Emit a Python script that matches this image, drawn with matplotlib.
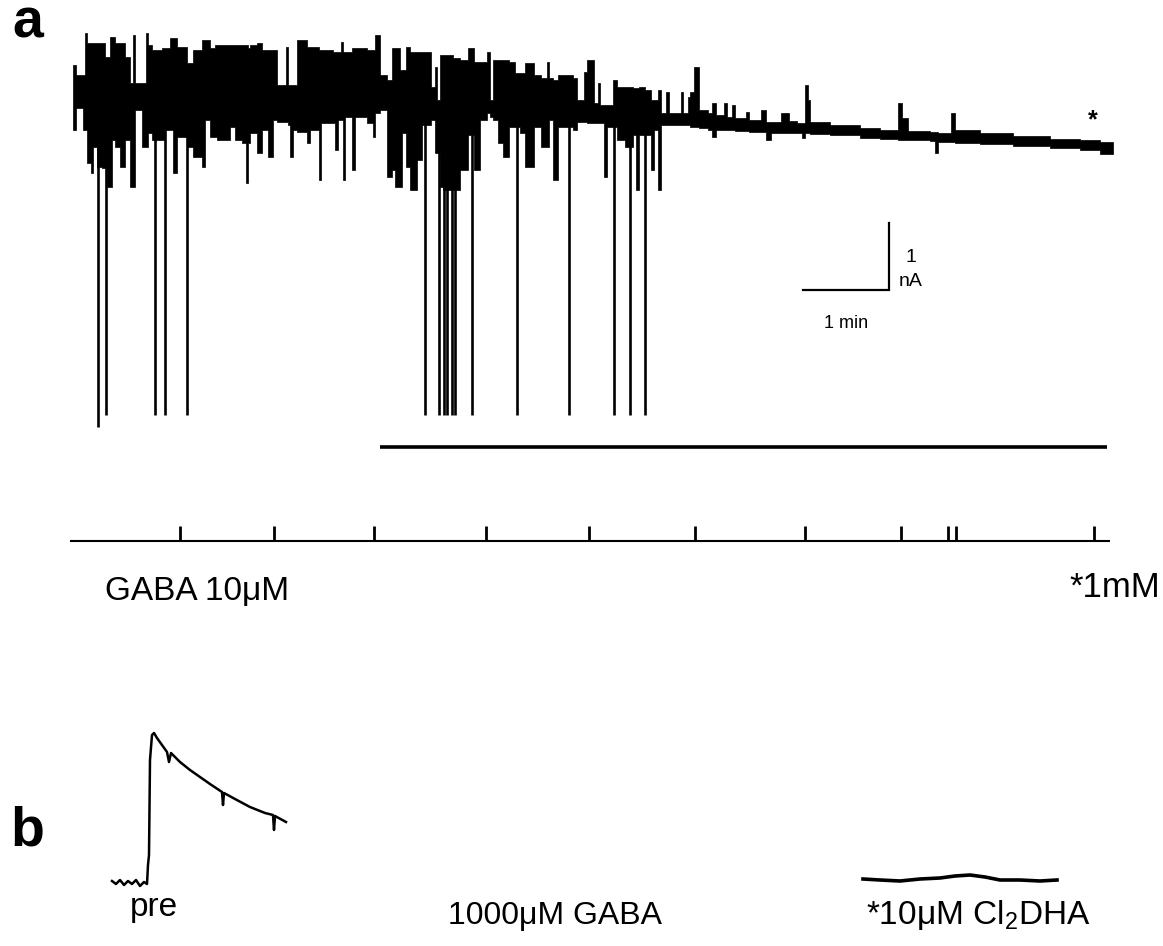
import matplotlib
matplotlib.use("Agg")
import matplotlib.pyplot as plt

plt.rcParams['font.family'] = ['Liberation Sans', 'DejaVu Sans']
plt.rcParams['mathtext.fontset'] = 'custom'
plt.rcParams['mathtext.rm'] = 'Liberation Sans'

# ---- panel a: whole-cell current during GABA 10 uM (time s, current pA) ----
# step envelope of the noisy trace: start time, upper edge, lower edge
band_t = [0.0, 2.1, 7.0, 8.4, 9.8, 12.6, 14.0, 16.8, 20.3, 22.4, 23.8, 25.9,
          27.3, 29.4, 32.9, 36.4, 39.9, 42.0, 43.4, 48.3, 51.1, 52.5, 55.3,
          62.3, 64.4, 67.9, 70.0, 72.8, 79.8, 84.0, 90.3, 92.4, 95.9, 99.4,
          100.8, 109.9, 113.4, 118.3, 121.1, 122.5, 123.9, 128.8, 132.3,
          136.5, 140.0, 142.8, 149.1, 150.5, 151.9, 154.0, 156.8, 163.8,
          165.9, 172.2, 173.6, 182.0, 183.4, 185.5, 187.6, 189.0, 190.4,
          195.3, 197.4, 205.8, 210.0, 211.4, 214.9, 219.8, 223.3, 225.4,
          228.9, 230.3, 233.1, 235.9, 240.8, 244.3, 250.6, 253.4, 254.8,
          256.9, 259.0, 266.0, 270.9, 276.5, 280.7, 284.9, 289.8, 291.9,
          294.0, 297.5, 301.0, 305.2, 309.4, 312.9, 316.4, 322.7, 327.6,
          331.8, 333.2, 336.0, 339.5, 350.0, 352.8, 357.7, 359.8, 364.7,
          367.5, 368.9, 371.7, 373.8, 378.0, 380.8, 386.4, 392.0, 394.1,
          396.2, 400.4, 404.6, 406.7, 409.5, 411.6, 415.1, 417.2, 425.6,
          427.0, 430.5, 431.9, 434.7, 438.2, 444.5, 447.3, 450.1, 455.7,
          457.8, 461.3, 463.4, 471.1, 473.2, 481.6, 485.1, 488.6, 495.6,
          501.2, 506.8, 510.3, 512.4, 514.5, 515.9, 529.9, 550.9, 564.9,
          577.5, 580.0, 584.5, 599.9, 603.4, 605.5, 614.6, 617.4, 634.9,
          658.0, 683.9, 704.9, 718.9, 728.0]
band_hi = [525, 375, 375, 1005, 855, 855, 855, 855, 855, 645, 645, 945,
           945, 855, 855, 645, 255, 975, 255, 255, 1005, 825, 750,
           780, 780, 930, 930, 795, 555, 750, 900, 900, 780, 825,
           825, 825, 825, 825, 825, 780, 825, 855, 750,
           750, 750, 225, 795, 225, 225, 225, 900, 795,
           795, 750, 750, 720, 720, 720, 870, 720, 720,
           780, 780, 750, 750, 975, 375, 300, 780, 780,
           450, 450, 795, 720, 720, 720, 195, 495, 0,
           675, 675, 630, 600, 780, 570, 570, 720, 0,
           600, 600, 600, 570, 405, 405, 555, 375, 330,
           570, 330, 300, 375, 330, 0, 420, 600, -45,
           255, -75, -75, -75, 300, 195, 195, 180, 180,
           195, 150, 0, 0, 150, -195, 120, -195, 120,
           -195, 45, 120, 495, -150, -195, -45, -225, -45,
           -255, -75, -270, -180, -300, -150, -330, -330, -195,
           -315, -345, -345, 225, 0, -330, -375, -420, -450,
           -45, -270, -465, -480, -480, -495, -195, -450, -495,
           -540, -585, -600, -630, -630]
band_lo = [-450, -120, -450, -450, -945, -1095, -705, -1005, -1020, -1020, -1305, -1305,
           -600, -705, -1005, -600, -1305, -1305, -150, -705, -705, -495, -600,
           -600, -450, -450, -1095, -555, -705, -855, -1005, -300, -555, -555,
           -600, -405, -600, -645, -1245, -645, -495, -795, -450,
           -855, -300, -330, -330, -375, -855, -450, -480, -645,
           -450, -1200, -345, -345, -750, -300, -300, -1200, -255,
           -1050, -255, -345, -555, -195, -150, -1155, -1050, -1305,
           -1305, -495, -1005, -1350, -900, -375, -300, -795, -795,
           -1305, -1350, -1350, -1050, -525, -1050, -300, -195, -255,
           -300, -645, -855, -405, -405, -495, -1005, -405, -705,
           -705, -300, -1200, -405, -450, -330, -330, -345, -345,
           -345, -345, -1155, -405, -405, -600, -705, -525, -1350,
           -525, -525, -1050, -450, -1350, -375, -375, -375, -375,
           -375, -375, -405, -405, -420, -450, -555, -450, -450,
           -450, -450, -465, -465, -480, -480, -600, -495, -495,
           -495, -495, -570, -495, -495, -510, -525, -570, -585,
           -600, -600, -600, -615, -795, -630, -630, -645, -660,
           -690, -720, -750, -810, -810]

# large inward events (time s, peak pA)
event_t = [17.2, 22.9, 57.2, 64.6, 79.5, 246.1, 256.1, 259.5, 261.7, 265.2,
           267.5, 279.4, 310.9, 347.2, 378.6, 390.0, 400.1]
event_peak = [-4905, -4725, -4725, -4725, -4725, -4725, -4725, -4725, -4725,
              -4725, -4725, -4725, -4725, -4725, -4725, -4725, -4725]

# drug application bar and event marker ticks (s)
drug_on, drug_off = 214.9, 723.8
marker_t = [74.9, 140.4, 210.7, 289.1, 360.9, 435.4, 512.2, 579.6, 612.7,
            617.8, 714.5]

# ---- panel b: responses to 1000 uM GABA (time s, current pA) ----
pre_t = [1.2, 1.6, 2.0, 2.4, 2.8, 3.2, 3.6, 4.0, 4.4, 4.7, 4.8, 4.9, 5.0,
         5.2, 5.4, 5.7, 6.2, 6.7, 6.9, 7.1, 8.0, 9.0, 10.0, 11.0, 12.2, 12.3,
         12.4, 13.5, 15.0, 16.5, 17.3, 17.4, 17.5, 18.6]
pre_i = [15, -30, 30, -45, 15, -30, 30, -60, 0, -30, 255, 405, 1830,
         2205, 2235, 2160, 2055, 1950, 1800, 1935, 1800, 1680, 1575, 1470,
         1350, 1155, 1335, 1245, 1125, 1035, 1005, 780, 990, 900]
cl2dha_t = [76.3, 78.0, 80.0, 82.0, 84.0, 85.5, 87.0, 88.5, 90.0, 92.0,
            94.0, 95.7]
cl2dha_i = [45, 30, 15, 45, 60, 90, 105, 75, 30, 30, 15, 30]

W, H = 1163, 946
fig = plt.figure(figsize=(W / 100, H / 100), dpi=100)

# panel a axes: 0.7 s and 15 pA per pixel, trace origin at (73, 100) px
ax = fig.add_axes([0, 0, 1, 1])
ax.set_xlim(-73 * 0.7, (W - 73) * 0.7)
ax.set_ylim((100 - H) * 15, 100 * 15)
ax.axis('off')

ax.fill_between(band_t, band_lo, band_hi, step='post', color='black',
                linewidth=0.5)
ax.vlines(event_t, -300, event_peak, color='black', linewidth=1.9)

ax.hlines(-5205, drug_on, drug_off, color='black', linewidth=2.6)
ax.hlines(-6615, -2.1, 725.9, color='black', linewidth=1.5)
ax.vlines(marker_t, -6615, -6615 + 230, color='black', linewidth=2.0)

# scale bar 1 min / 1 nA
ax.plot([511, 571, 571], [-2850, -2850, -1850], color='black', linewidth=1.6,
        solid_joinstyle='miter')
ax.text(583, -2370, '1', fontsize=14, va='center', ha='left')
ax.text(578, -2730, 'nA', fontsize=14, va='center', ha='left')
ax.text(541, -3350, '1 min', fontsize=13, va='center', ha='center')
ax.text(714, -300, '*', fontsize=18, fontweight='bold', ha='center',
        va='center')

# panel b axes: 0.1 s and 15 pA per pixel, origin at (100, 882) px
axb = fig.add_axes([0, 0, 1, 1])
axb.set_xlim(-100 * 0.1, (W - 100) * 0.1)
axb.set_ylim((882 - H) * 15, 882 * 15)
axb.axis('off')
axb.plot(pre_t, pre_i, color='black', linewidth=1.8)
axb.plot(cl2dha_t, cl2dha_i, color='black', linewidth=2.6)

# labels
fig.text(12 / W, 1 - 38 / H, 'a', fontsize=40, fontweight='bold',
         va='baseline')
fig.text(10 / W, 1 - 845 / H, 'b', fontsize=40, fontweight='bold',
         va='baseline')
fig.text(105 / W, 1 - 600 / H, 'GABA 10μM', fontsize=24, va='baseline')
fig.text(1160 / W, 1 - 597 / H, '*1mM', fontsize=25, va='baseline',
         ha='right')
fig.text(130 / W, 1 - 916 / H, 'pre', fontsize=24, va='baseline')
fig.text(555 / W, 1 - 924 / H, '1000μM GABA', fontsize=23, va='baseline',
         ha='center')
fig.text(866 / W, 1 - 924 / H, r'*10μM Cl$_\mathrm{2}$DHA', fontsize=24,
         va='baseline')

fig.savefig('out.png', dpi=100)
